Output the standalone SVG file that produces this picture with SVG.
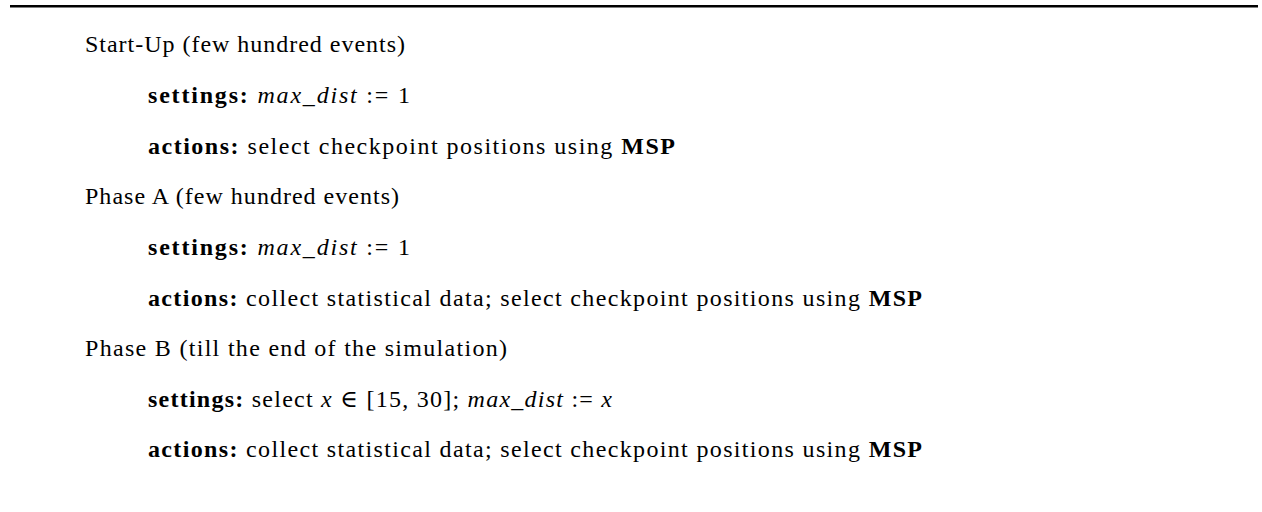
<svg xmlns="http://www.w3.org/2000/svg" width="1262" height="512" viewBox="0 0 1262 512">
<style>
text{font-family:"Liberation Serif","DejaVu Serif",serif;font-size:24px;fill:#000}
.b{font-weight:bold}
.i{font-style:italic}
</style>
<rect width="1262" height="512" fill="#fff"/>
<line x1="10" y1="6.3" x2="1258" y2="6.3" stroke="#000" stroke-width="2.5"/>
<g id="startup">
<text x="85" y="52" textLength="320" lengthAdjust="spacing">Start-Up (few hundred events)</text>
<text x="148" y="103" textLength="262" lengthAdjust="spacing"><tspan class="b">settings:</tspan> <tspan class="i">max_dist</tspan> := 1</text>
<text x="148" y="154" textLength="527" lengthAdjust="spacing"><tspan class="b">actions:</tspan> select checkpoint positions using <tspan class="b">MSP</tspan></text>
</g>
<g id="phaseA">
<text x="85" y="204" textLength="314" lengthAdjust="spacing">Phase A (few hundred events)</text>
<text x="148" y="255" textLength="262" lengthAdjust="spacing"><tspan class="b">settings:</tspan> <tspan class="i">max_dist</tspan> := 1</text>
<text x="148" y="306" textLength="774" lengthAdjust="spacing"><tspan class="b">actions:</tspan> collect statistical data; select checkpoint positions using <tspan class="b">MSP</tspan></text>
</g>
<g id="phaseB">
<text x="85" y="356" textLength="422" lengthAdjust="spacing">Phase B (till the end of the simulation)</text>
<text x="148" y="407" textLength="464" lengthAdjust="spacing"><tspan class="b">settings:</tspan> select <tspan class="i">x</tspan> ∈ [15, 30]; <tspan class="i">max_dist</tspan> := <tspan class="i">x</tspan></text>
<text x="148" y="457" textLength="774" lengthAdjust="spacing"><tspan class="b">actions:</tspan> collect statistical data; select checkpoint positions using <tspan class="b">MSP</tspan></text>
</g>
</svg>
